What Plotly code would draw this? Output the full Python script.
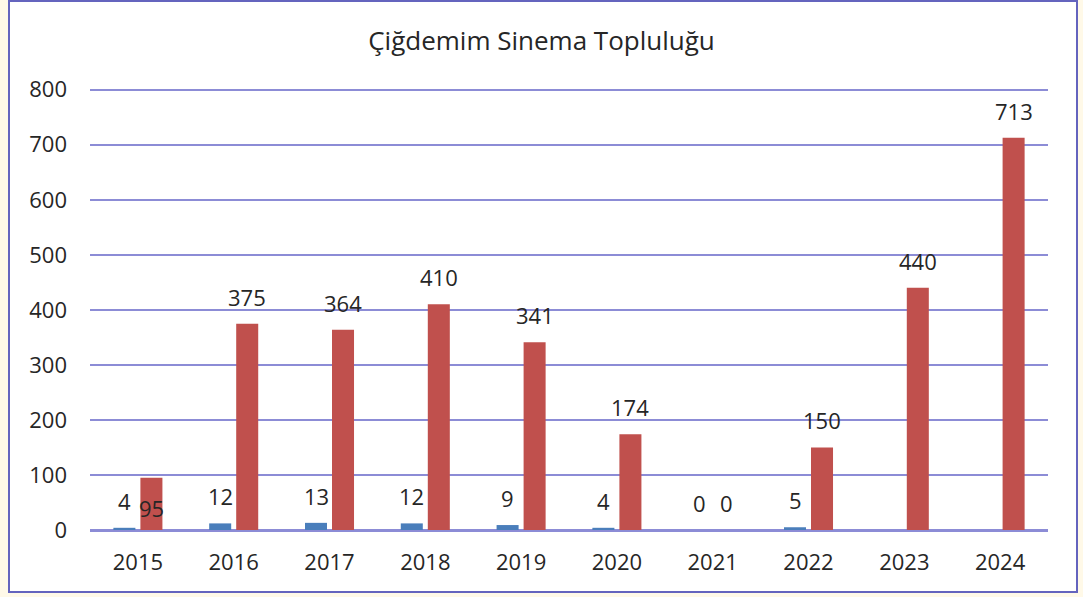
import plotly.graph_objects as go

years = ["2015", "2016", "2017", "2018", "2019", "2020", "2021", "2022", "2023", "2024"]
series_a = [4, 12, 13, 12, 9, 4, 0, 5, None, None]
series_b = [95, 375, 364, 410, 341, 174, 0, 150, 440, 713]
y_ticks = [0, 100, 200, 300, 400, 500, 600, 700, 800]
title_text = "Çiğdemim Sinema Topluluğu"

BLUE = "#4A7EBB"
RED = "#C0504D"
GRID = "#8C8CD6"
FONT = "Open Sans"
TXT = "#262626"

fig = go.Figure()
fig.add_trace(go.Bar(x=years, y=series_a, marker=dict(color=BLUE, line=dict(width=0)), name="A"))
fig.add_trace(go.Bar(x=years, y=series_b, marker=dict(color=RED, line=dict(width=0)), name="B"))

# data labels (category index used for x so numeric-looking names are not misread)
label_shift = {("B", "2015"): -30}
annotations = []
for name, vals, dx in (("A", series_a, -13.5), ("B", series_b, 13.5)):
    for i, (yr, v) in enumerate(zip(years, vals)):
        if v is None:
            continue
        annotations.append(dict(
            x=i, y=v, xref="x", yref="y", text=str(v), showarrow=False,
            xshift=dx, yshift=label_shift.get((name, yr), 27),
            font=dict(family=FONT, size=22, color=TXT),
        ))

W, H = 1083, 597
L, R, T, B = 90, 35, 87, 67
pw, ph = W - L - R, H - T - B
Y_MAX = 805

def px_x(x):
    return (x - L) / pw

def px_y(y):
    return (H - B - y) / ph

fig.update_layout(
    width=W, height=H,
    margin=dict(l=L, r=R, t=T, b=B, autoexpand=False),
    paper_bgcolor="#FFF9E8",
    plot_bgcolor="white",
    showlegend=False,
    barmode="group",
    bargap=0.436,
    bargroupgap=0.185,
    title=dict(text=title_text, x=0.5, xref="container", xanchor="center",
               y=1 - 41 / H, yref="container", yanchor="middle",
               font=dict(family=FONT, size=26, color=TXT)),
    annotations=annotations,
    shapes=[dict(type="rect", xref="paper", yref="paper",
                 x0=px_x(9), x1=px_x(1077), y0=px_y(592), y1=px_y(1),
                 fillcolor="white", line=dict(color="#6464BE", width=2), layer="below")],
    xaxis=dict(type="category", showgrid=False, showline=True, linecolor=GRID, linewidth=2,
               ticks="", tickfont=dict(family=FONT, size=22, color=TXT),
               ticklabelstandoff=12, automargin=False),
    yaxis=dict(range=[0, Y_MAX], tickvals=y_ticks, showgrid=True, gridcolor=GRID, gridwidth=2,
               zeroline=True, zerolinecolor=GRID, zerolinewidth=2, showline=False,
               ticks="", tickfont=dict(family=FONT, size=22, color=TXT),
               ticklabelstandoff=22, automargin=False),
)

fig.write_html("out.html",
               config={"displayModeBar": False},
               post_script="document.body.style.margin='0';document.body.style.overflow='hidden';")
